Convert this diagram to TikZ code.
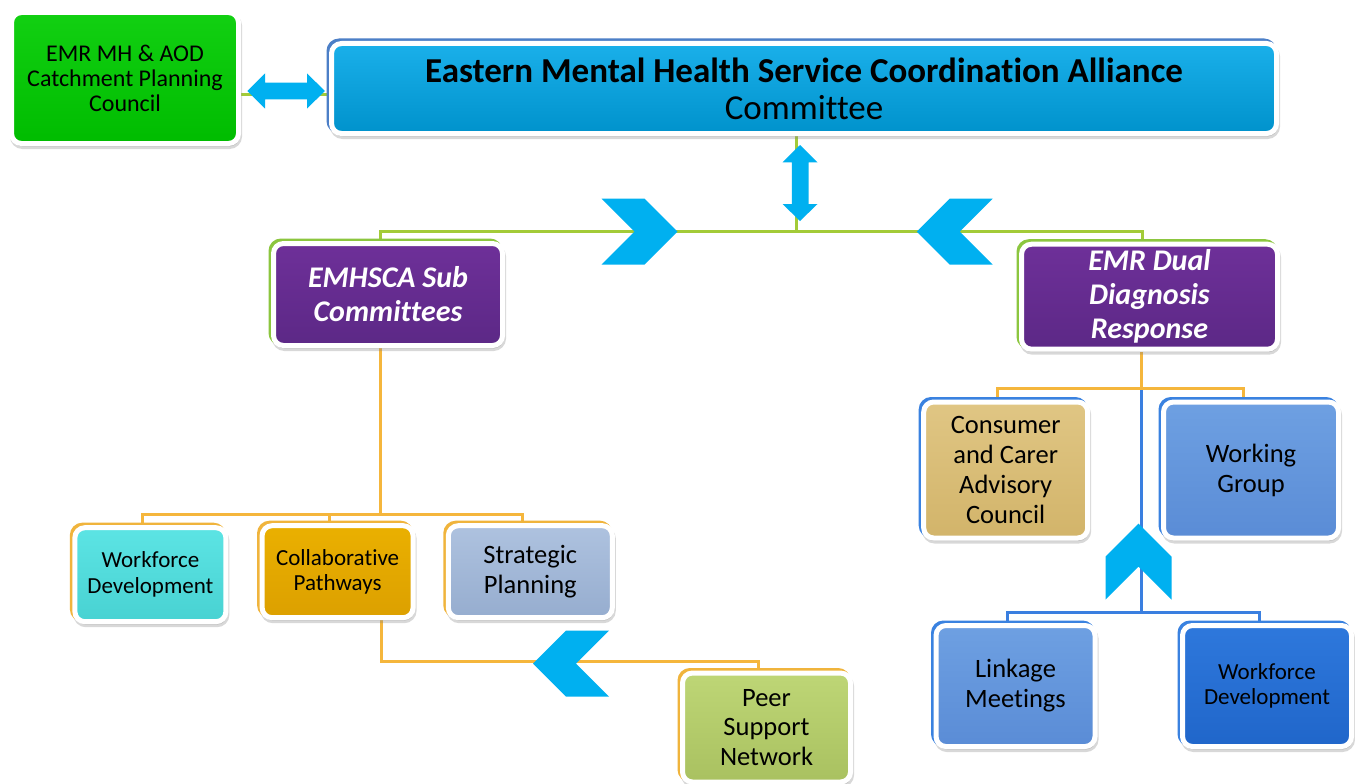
\documentclass[tikz,border=0pt]{standalone}
\usepackage{fontspec}
\setmainfont[Ligatures=NoCommon]{Carlito}
\pgfdeclarelayer{bg}
\pgfsetlayers{bg,main}
\definecolor{arrowc}{HTML}{00B0F0}
\definecolor{gline}{HTML}{A3CB38}
\definecolor{oline}{HTML}{F5B63C}
\definecolor{bline}{HTML}{3A7FE0}
\definecolor{grtop}{HTML}{12D012}
\definecolor{grbot}{HTML}{00BC00}
\definecolor{comtop}{HTML}{1AB0EA}
\definecolor{combot}{HTML}{0092CC}
\definecolor{purtop}{HTML}{6E3099}
\definecolor{purbot}{HTML}{5C2886}
\definecolor{tantop}{HTML}{E0C684}
\definecolor{tanbot}{HTML}{D2B46A}
\definecolor{ltbtop}{HTML}{6EA0E2}
\definecolor{ltbbot}{HTML}{5A8CD6}
\definecolor{dkbtop}{HTML}{2E78DC}
\definecolor{dkbbot}{HTML}{2066CA}
\definecolor{cyntop}{HTML}{5CE4E4}
\definecolor{cynbot}{HTML}{48D2D2}
\definecolor{gldtop}{HTML}{EAB000}
\definecolor{gldbot}{HTML}{DCA000}
\definecolor{sttop}{HTML}{AEC2DF}
\definecolor{stbot}{HTML}{96ADCF}
\definecolor{petop}{HTML}{BED676}
\definecolor{pebot}{HTML}{A9C160}
\definecolor{bkgreen}{HTML}{8CC63F}
\definecolor{bkblue}{HTML}{4C7FC7}
\definecolor{bkgold}{HTML}{F0B43C}
\definecolor{bkbright}{HTML}{3A82E0}
\tikzset{
  box/.style={rectangle, rounded corners=10pt, draw=white, line width=5pt, inner sep=0pt, align=center,
    preaction={draw=black!50, fill=black!50, opacity=0.3, transform canvas={xshift=1pt,yshift=-3pt}}},
  backed/.style={preaction={draw=#1, fill=#1, transform canvas={xshift=-2.5pt,yshift=2.5pt}}},
  gconn/.style={draw=gline, line width=3pt},
  oconn/.style={draw=oline, line width=3pt},
  bconn/.style={draw=bline, line width=3pt},
  chev/.pic={\fill[arrowc] (-38,-33) -- (5,-33) -- (38,0) -- (5,33) -- (-38,33) -- (-5,0) -- cycle;},
  smallfont/.style={font=\fontsize{23}{25}\selectfont},
  midfont/.style={font=\fontsize{26.5}{30}\selectfont},
  purfont/.style={font=\bfseries\itshape\fontsize{30}{34}\selectfont, text=white},
}
\begin{document}
\begin{tikzpicture}[x=1pt,y=-1pt]
\useasboundingbox (0,0) rectangle (1355,784);

% boxes
\node[box, top color=grtop, bottom color=grbot, minimum width=227pt, minimum height=131pt,
  font=\fontsize{24}{25}\selectfont] (council) at (125,78) {EMR MH \& AOD\\Catchment Planning\\Council};
\node[box, backed=bkblue, top color=comtop, bottom color=combot, minimum width=945pt, minimum height=90pt,
  font=\fontsize{35}{37}\selectfont] (comm) at (804,88.5)
  {{\bfseries Eastern Mental Health Service Coordination Alliance}\\Committee};
\node[box, backed=bkgreen, top color=purtop, bottom color=purbot, minimum width=229pt, minimum height=102pt,
  purfont] (sub) at (388,294.5) {EMHSCA Sub\\Committees};
\node[box, backed=bkgreen, top color=purtop, bottom color=purbot, minimum width=256pt, minimum height=105pt,
  purfont] (dual) at (1149.5,296.7) {EMR Dual\\Diagnosis\\Response};

\node[box, backed=bkgold, top color=cyntop, bottom color=cynbot, minimum width=151pt, minimum height=94pt,
  font=\fontsize{23}{26}\selectfont] (wfl) at (150.4,574.7) {Workforce\\Development};
\node[box, backed=bkgold, top color=gldtop, bottom color=gldbot, minimum width=151pt, minimum height=92pt,
  smallfont] (collab) at (337.6,571.7) {Collaborative\\Pathways};
\node[box, backed=bkgold, top color=sttop, bottom color=stbot, minimum width=164pt, minimum height=92pt,
  midfont] (strat) at (530.3,571.7) {Strategic\\Planning};
\node[box, backed=bkgold, top color=petop, bottom color=pebot, minimum width=168pt, minimum height=109pt,
  font=\fontsize{26.5}{29.5}\selectfont] (peer) at (766.5,727.5) {Peer\\Support\\Network};

\node[box, backed=bkbright, top color=tantop, bottom color=tanbot, minimum width=164pt, minimum height=136pt,
  midfont] (cons) at (1005.7,470) {Consumer\\and Carer\\Advisory\\Council};
\node[box, backed=bkbright, top color=ltbtop, bottom color=ltbbot, minimum width=175pt, minimum height=136pt,
  midfont] (work) at (1251,470) {Working\\Group};
\node[box, backed=bkbright, top color=ltbtop, bottom color=ltbbot, minimum width=159pt, minimum height=121pt,
  midfont] (link) at (1015.5,686) {Linkage\\Meetings};
\node[box, backed=bkbright, top color=dkbtop, bottom color=dkbbot, minimum width=169pt, minimum height=121pt,
  smallfont] (wfr) at (1267,686) {Workforce\\Development};

% connectors
\begin{pgfonlayer}{bg}
\fill[white] (0,0) rectangle (1355,784);
\coordinate (cy) at (0,94);
\draw[gconn] (council.east |- cy) -- (comm.west |- cy);
\coordinate (jn) at (796,231);
\draw[gconn] (comm.south -| jn) -- (jn);
\draw[gconn] (jn) -| ([xshift=-8pt]sub.north);
\draw[gconn] (jn) -| ([xshift=-7.5pt]dual.north);
\coordinate (j2) at (380,514);
\draw[oconn] ([xshift=-8pt]sub.south) -- (j2);
\draw[oconn] (j2) -| ([xshift=-8pt]wfl.north);
\draw[oconn] (j2) -| ([xshift=-8pt]collab.north);
\draw[oconn] (j2) -| ([xshift=-8pt]strat.north);
\coordinate (j3) at (381,661);
\draw[oconn] (collab.south -| j3) -- (j3) -| ([xshift=-8pt]peer.north);
\coordinate (j4) at (1141.5,388);
\coordinate (j5) at (1141.5,612);
\draw[bconn] (j4) -- (j5);
\draw[bconn] (j5) -| ([xshift=-8pt]link.north);
\draw[bconn] (j5) -| ([xshift=-8pt]wfr.north);
\draw[oconn] ([xshift=-8pt]dual.south) -- (j4);
\draw[oconn] (j4) -| ([xshift=-8pt]cons.north);
\draw[oconn] (j4) -| ([xshift=-8pt]work.north);
\end{pgfonlayer}

% double arrows
\fill[arrowc] (247.3,91) -- (265,73.5) -- (265,82.7) -- (307,82.7) -- (307,73.5) -- (325,91)
  -- (307,108.5) -- (307,99.3) -- (265,99.3) -- (265,108.5) -- cycle;
\fill[arrowc] (800,145) -- (817.5,162.3) -- (808.5,162.3) -- (808.5,204) -- (817.5,204) -- (800,221)
  -- (782.5,204) -- (791.8,204) -- (791.8,162.3) -- (782.5,162.3) -- cycle;

% chevrons
\pic at (639.5,231.6) {chev};
\pic[rotate=180] at (954.7,231.6) {chev};
\pic[rotate=90] at (1138.5,561.7) {chev};
\pic[rotate=180] at (571,663.7) {chev};
\end{tikzpicture}
\end{document}
